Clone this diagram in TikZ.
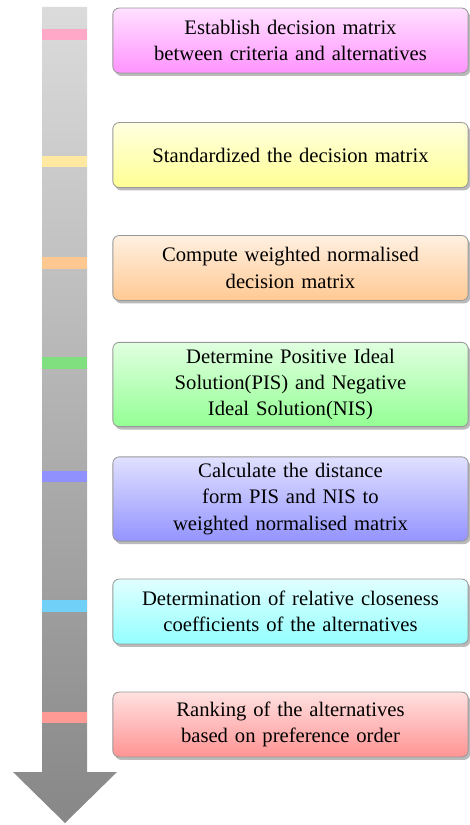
\documentclass[tikz,border=0pt]{standalone}
\usepackage{fontspec}
\setmainfont{Liberation Serif}
\usepackage{xcolor}
\usepackage{tikz}
\usetikzlibrary{shadows,positioning}

\definecolor{bandpink}{HTML}{FFA8C8}
\definecolor{bandyellow}{HTML}{FFE9A0}
\definecolor{bandorange}{HTML}{FFC890}
\definecolor{bandgreen}{HTML}{80E080}
\definecolor{bandblue}{HTML}{9090FF}
\definecolor{bandcyan}{HTML}{70D0F8}
\definecolor{bandred}{HTML}{FF9A94}

\begin{document}
\begin{tikzpicture}[
  x=0.47pt, y=-0.47pt,
  stepbox/.style={rectangle, draw=black!40, rounded corners=3pt, text width=160pt, align=center,
    minimum width=167pt, minimum height=30.5pt, inner sep=3pt,
    font=\fontsize{9.7pt}{12.4pt}\selectfont,
    top color=#1!12, bottom color=#1!42,
    drop shadow={shadow xshift=1pt, shadow yshift=-1.4pt, fill=black!45, opacity=0.6}},
  band/.style={fill=#1}
]
\useasboundingbox (0,0) rectangle (469,825);

% timeline arrow
\shade[top color=black!14, bottom color=black!47]
  (42,7) -- (87,7) -- (87,772) -- (117,772) -- (65,823) -- (13,772) -- (42,772) -- cycle;
\fill[band=bandpink]   (42,29)  rectangle (87,40);
\fill[band=bandyellow] (42,156) rectangle (87,167);
\fill[band=bandorange] (42,257) rectangle (87,269);
\fill[band=bandgreen]  (42,357) rectangle (87,369);
\fill[band=bandblue]   (42,471) rectangle (87,482);
\fill[band=bandcyan]   (42,600) rectangle (87,612);
\fill[band=bandred]    (42,712) rectangle (87,723);

% steps
\node[stepbox=magenta] (est)  at (290.5,40.5)  {Establish decision matrix\\between criteria and alternatives};
\node[stepbox=yellow]  (std)  at (290.5,155)   {Standardized the decision matrix};
\node[stepbox=orange]  (wgt)  at (290.5,268)   {Compute weighted normalised\\decision matrix};
\node[stepbox=green]   (ideal) at (290.5,384.5) {Determine Positive Ideal\\Solution(PIS) and Negative\\Ideal Solution(NIS)};
\node[stepbox=blue]    (dist) at (290.5,499)   {Calculate the distance\\form PIS and NIS to\\weighted normalised matrix};
\node[stepbox=cyan]    (close) at (290.5,611.5) {Determination of relative closeness\\coefficients of the alternatives};
\node[stepbox=red]     (rank) at (290.5,724.5) {Ranking of the alternatives\\based on preference order};
\end{tikzpicture}
\end{document}
